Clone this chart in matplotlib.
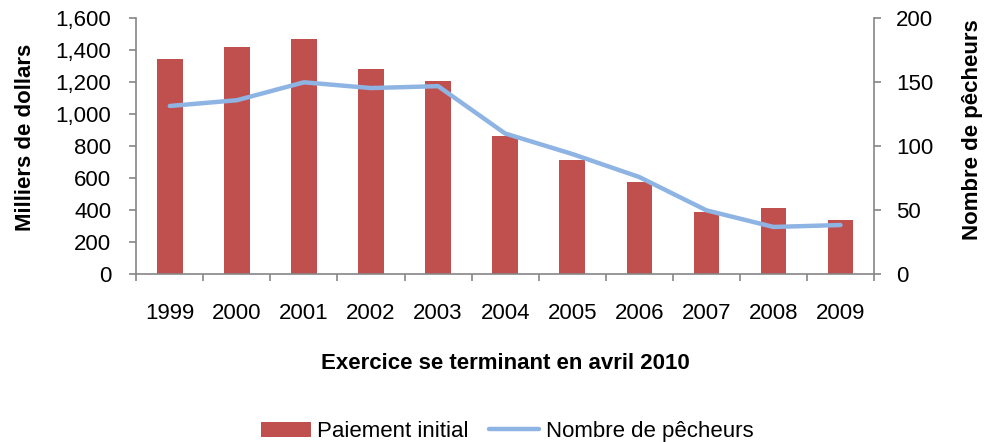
import matplotlib
matplotlib.use("Agg")
import matplotlib.pyplot as plt
from matplotlib.ticker import FuncFormatter, FixedLocator
import numpy as np

plt.rcParams['font.family'] = ['Liberation Sans', 'DejaVu Sans']

years = ["1999", "2000", "2001", "2002", "2003", "2004", "2005", "2006", "2007", "2008", "2009"]
paiement_initial = [1345, 1420, 1470, 1283, 1208, 862, 712, 575, 390, 412, 340]
nombre_pecheurs = [131.5, 136, 150, 145.5, 147, 110, 94, 76, 50, 37, 38.5]

bar_color = "#C0504D"
line_color = "#8EB4E3"
axis_color = "#868686"
fs = 16

fig = plt.figure(figsize=(9.84, 4.42), dpi=100)
ax = fig.add_axes([0.1385, 0.3794, 0.7497, 0.5792])
ax2 = ax.twinx()

x = np.arange(len(years))
bars = ax.bar(x, paiement_initial, width=0.38, color=bar_color, label="Paiement initial", zorder=2)
line, = ax2.plot(x, nombre_pecheurs, color=line_color, linewidth=3.2, label="Nombre de pêcheurs",
                 solid_capstyle='round', solid_joinstyle='round', zorder=3)

ax.set_xlim(-0.5, len(years) - 0.5)
ax.set_ylim(0, 1600)
ax2.set_ylim(0, 200)
ax.set_yticks(np.arange(0, 1601, 200))
ax2.set_yticks(np.arange(0, 201, 50))
ax.yaxis.set_major_formatter(FuncFormatter(lambda v, p: f"{int(v):,}"))

ax.set_xticks(x)
ax.set_xticklabels(years, fontsize=fs)
ax.xaxis.set_minor_locator(FixedLocator(np.arange(-0.5, len(years), 1.0)))
ax.tick_params(axis='x', which='major', length=0, pad=21)
ax.tick_params(axis='x', which='minor', length=5, color=axis_color, width=1.2, direction='out')
ax.tick_params(axis='y', length=5, color=axis_color, width=1.2, direction='out', labelsize=fs, pad=13)
ax2.tick_params(axis='y', length=5, color=axis_color, width=1.2, direction='out', labelsize=fs, pad=11)

for a in (ax, ax2):
    a.spines['top'].set_visible(False)
    for s in a.spines.values():
        s.set_color(axis_color)
        s.set_linewidth(1.2)
ax.spines['right'].set_visible(False)
ax2.spines['left'].set_visible(False)
ax2.spines['bottom'].set_visible(False)

ax.set_ylabel("Milliers de dollars", fontsize=fs, fontweight='bold', va='center')
ax.yaxis.set_label_coords(-0.1505, 0.534)
ax2.set_ylabel("Nombre de pêcheurs", fontsize=fs, fontweight='bold', rotation=90, va='center')
ax2.yaxis.set_label_coords(1.1335, 0.567)
ax.set_xlabel("Exercice se terminant en avril 2010", fontsize=fs, fontweight='bold', va='center')
ax.xaxis.set_label_coords(0.5, -0.35)

fig.legend(handles=[bars, line], labels=["Paiement initial", "Nombre de pêcheurs"],
           loc='center', bbox_to_anchor=(507 / 984, 0.024), ncol=2, frameon=False,
           fontsize=fs, handlelength=2.25, handleheight=0.65, handletextpad=0.3, columnspacing=0.9,
           borderpad=0.1)

fig.savefig("out.png", dpi=100)
